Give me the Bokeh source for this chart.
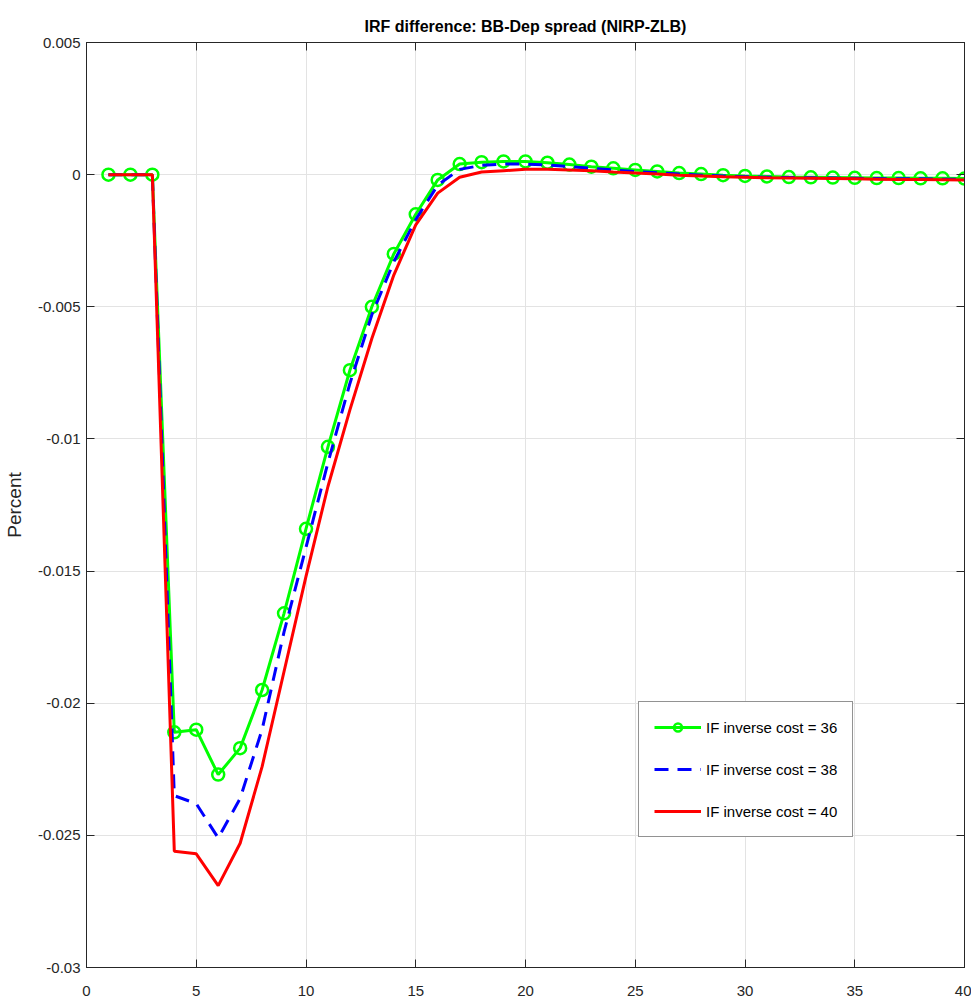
from bokeh.plotting import figure
from bokeh.models import LinearAxis, Legend, LegendItem, FixedTicker, Range1d
from bokeh.embed import file_html
from bokeh.resources import INLINE

periods = list(range(1, 41))
cost_36 = [0, 0, 0, -0.0211, -0.0210, -0.0227, -0.0217, -0.0195, -0.0166, -0.0134,
           -0.0103, -0.0074, -0.0050, -0.0030, -0.0015, -0.0002, 0.0004, 0.00047, 0.0005, 0.0005,
           0.00045, 0.00038, 0.0003, 0.00024, 0.00018, 0.00012, 0.00006, 0.00002, -0.00002, -0.00005,
           -0.00007, -0.00009, -0.0001, -0.00011, -0.00012, -0.00013, -0.00013, -0.00014, -0.00014, -0.00015]
cost_38 = [0, 0, 0, -0.0235, -0.0238, -0.0251, -0.0236, -0.0210, -0.0173, -0.0141,
           -0.0109, -0.0079, -0.0053, -0.0033, -0.0017, -0.0004, 0.0002, 0.00035, 0.0004, 0.0004,
           0.00037, 0.0003, 0.00024, 0.00018, 0.00012, 0.00007, 0.00002, -0.00002, -0.00005, -0.00008,
           -0.0001, -0.00011, -0.00012, -0.00013, -0.00014, -0.00015, -0.00016, -0.00016, -0.00017, -0.00017]
cost_40 = [0, 0, 0, -0.0256, -0.0257, -0.0269, -0.0253, -0.0224, -0.0188, -0.0152,
           -0.0118, -0.0089, -0.0062, -0.0038, -0.0019, -0.0007, -0.0001, 0.0001, 0.00015, 0.0002,
           0.0002, 0.00018, 0.00015, 0.0001, 0.00006, 0.00002, -0.00002, -0.00005, -0.00008, -0.0001,
           -0.00012, -0.00013, -0.00014, -0.00015, -0.00016, -0.00017, -0.00018, -0.00018, -0.00019, -0.0002]
labels = ["IF inverse cost = 36", "IF inverse cost = 38", "IF inverse cost = 40"]
x_ticks = [0, 5, 10, 15, 20, 25, 30, 35, 40]
y_ticks = [-0.03, -0.025, -0.02, -0.015, -0.01, -0.005, 0, 0.005]
y_tick_labels = ["-0.03", "-0.025", "-0.02", "-0.015", "-0.01", "-0.005", "0", "0.005"]

FONT = "Liberation Sans"
AX = "#262626"

p = figure(frame_width=878, frame_height=925, output_backend="svg", toolbar_location=None,
           x_range=Range1d(0, 40), y_range=Range1d(-0.03, 0.005),
           min_border_left=79, min_border_right=7, min_border_top=42, min_border_bottom=24)
p.title.text = "IRF difference: BB-Dep spread (NIRP-ZLB)"
p.title.align = "center"
p.title.text_font = FONT
p.title.text_font_size = "16px"
p.title.text_font_style = "bold"
p.title.text_color = "#000000"
p.title.standoff = 15

p.outline_line_color = AX
p.outline_line_width = 1

for ax in p.xaxis:
    ax.ticker = FixedTicker(ticks=x_ticks)
for ax in p.yaxis:
    ax.ticker = FixedTicker(ticks=y_ticks)
    ax.major_label_overrides = {t: l for t, l in zip(y_ticks, y_tick_labels)}
    ax.axis_label = "Percent"
    ax.axis_label_text_font = FONT
    ax.axis_label_text_font_size = "19px"
    ax.axis_label_text_font_style = "normal"
    ax.axis_label_text_color = "#262626"
    ax.axis_label_standoff = 10

for ax in list(p.xaxis) + list(p.yaxis):
    ax.axis_line_color = AX
    ax.major_tick_line_color = AX
    ax.major_tick_in = 8
    ax.major_tick_out = 0
    ax.minor_tick_line_color = None
    ax.major_label_text_font = FONT
    ax.major_label_text_font_size = "15px"
    ax.major_label_text_color = "#262626"
for ax in p.xaxis:
    ax.major_label_standoff = 18
for ax in p.yaxis:
    ax.major_label_standoff = 6

for loc, tk in (("above", x_ticks), ("right", y_ticks)):
    a = LinearAxis(ticker=FixedTicker(ticks=tk), major_label_text_font_size="0px",
                   major_label_standoff=0, major_tick_in=8, major_tick_out=0,
                   minor_tick_line_color=None, axis_line_color=AX, major_tick_line_color=AX)
    p.add_layout(a, loc)

p.xgrid.grid_line_color = "#e3e3e3"
p.ygrid.grid_line_color = "#e3e3e3"
p.xgrid.ticker = FixedTicker(ticks=x_ticks)
p.ygrid.ticker = FixedTicker(ticks=y_ticks)

g_line = p.line(periods, cost_36, line_color="#00ff00", line_width=3)
g_mark = p.scatter(periods, cost_36, marker="circle", size=12, fill_color=None,
                   line_color="#00ff00", line_width=2.5)
b_line = p.line(periods, cost_38, line_color="#0000ff", line_width=3, line_dash="14 9")
r_line = p.line(periods, cost_40, line_color="#ff0000", line_width=3)

legend = Legend(items=[LegendItem(label=labels[0], renderers=[g_line, g_mark]),
                       LegendItem(label=labels[1], renderers=[b_line]),
                       LegendItem(label=labels[2], renderers=[r_line])],
                location=(552, 130), padding=15, spacing=22, margin=0,
                glyph_width=47, glyph_height=20, label_height=20, label_width=130,
                label_standoff=5, label_text_font=FONT, label_text_font_size="15px",
                label_text_color="#000000", border_line_color=AX, border_line_width=1,
                background_fill_color="white", background_fill_alpha=1)
p.add_layout(legend, "center")

open("out.html", "w").write(file_html(p, INLINE))
